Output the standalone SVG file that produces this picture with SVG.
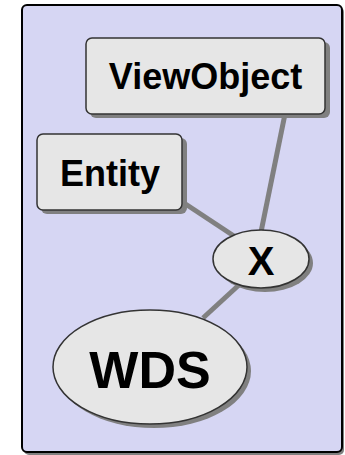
<svg xmlns="http://www.w3.org/2000/svg" width="345" height="455" viewBox="0 0 345 455">
<style>
.node{fill:#e6e6e6;stroke:#333;stroke-width:1.5}
.shadow{fill:#808080}
.lbl{font-family:"Liberation Sans",Arial,sans-serif;font-weight:bold;fill:#000;text-anchor:middle}
.edge{stroke:#808080;stroke-width:5;fill:none}
</style>
<rect x="24" y="7" width="320" height="448" rx="5" fill="#808080"/>
<rect x="22" y="5" width="320" height="447" rx="5" fill="#d6d6f3" stroke="#000" stroke-width="2"/>
<g id="connectors">
<line class="edge" x1="285" y1="114" x2="261" y2="232"/>
<line class="edge" x1="184" y1="203" x2="240" y2="240"/>
<line class="edge" x1="203" y1="318" x2="240" y2="284"/>
</g>
<g id="ViewObject">
<rect class="shadow" x="90" y="42" width="240" height="76" rx="6"/>
<rect class="node" x="86" y="38" width="239" height="76" rx="6"/>
<text class="lbl" x="205.5" y="89" font-size="36">ViewObject</text>
</g>
<g id="Entity">
<rect class="shadow" x="41" y="138" width="146" height="76" rx="6"/>
<rect class="node" x="37" y="134" width="145" height="76" rx="6"/>
<text class="lbl" x="110" y="186" font-size="36">Entity</text>
</g>
<g id="X">
<ellipse class="shadow" cx="265" cy="263" rx="48" ry="29"/>
<ellipse class="node" cx="261" cy="259" rx="48" ry="29"/>
<text class="lbl" x="261" y="275" font-size="40">X</text>
</g>
<g id="WDS">
<ellipse class="shadow" cx="154" cy="371" rx="97" ry="57"/>
<ellipse class="node" cx="150" cy="367" rx="97" ry="57"/>
<text class="lbl" x="150" y="388" font-size="52">WDS</text>
</g>
</svg>
